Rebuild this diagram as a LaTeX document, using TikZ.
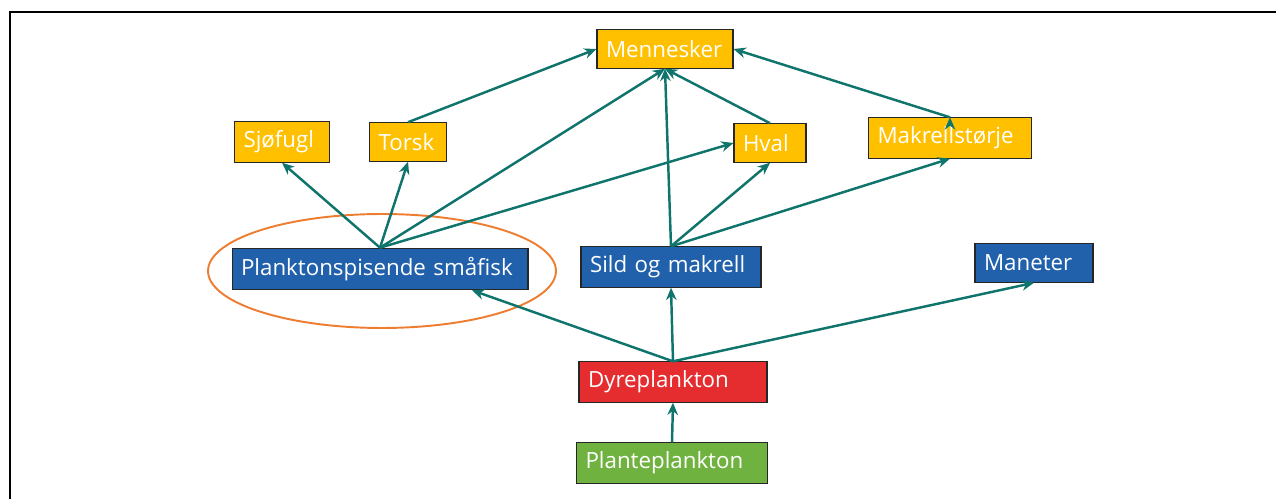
\documentclass[tikz,border=0pt]{standalone}
\usepackage{fontspec}
\setmainfont{Open Sans}
\usetikzlibrary{arrows.meta,calc}

\definecolor{topgold}{HTML}{FFC000}
\definecolor{fishblue}{HTML}{2161AC}
\definecolor{zoored}{HTML}{E52D30}
\definecolor{plantgreen}{HTML}{70B23F}
\definecolor{linkteal}{HTML}{0F746B}
\definecolor{ringorange}{HTML}{EE7D31}

\begin{document}
\begin{tikzpicture}[x=0.02cm,y=-0.02cm,
    every node/.style={font=\fontsize{12.7}{15}\selectfont},
    art/.style={draw=black!85,line width=0.6pt,text=white,minimum height=0.77cm,inner sep=0.18cm,align=left},
    link/.style={-{Stealth[length=7pt,width=6pt]},draw=linkteal,line width=1.4pt}]
    \useasboundingbox (0,0) rectangle (1276,499);
    \draw[line width=1.1pt] (1276,12) -- (10,12) -- (10,499);
    \draw[ringorange,line width=1.1pt] (382,271) ellipse [x radius=3.48cm,y radius=1.14cm];

    \node[art,fill=topgold,text width=2.36cm]    (menn)   at (665,49)  {Mennesker};
    \node[art,fill=topgold,text width=1.54cm]    (sjo)    at (282,142) {Sjøfugl};
    \node[art,fill=topgold,text width=1.18cm]    (torsk)  at (408,142) {Torsk};
    \node[art,fill=topgold,text width=1.08cm]    (hval)   at (770,143) {Hval};
    \node[art,fill=topgold,text width=2.90cm]    (mak)    at (950,138) {Makrellstørje};
    \node[art,fill=fishblue,text width=5.56cm]   (psf)    at (380,269) {Planktonspisende småfisk};
    \node[art,fill=fishblue,text width=3.24cm]   (sild)   at (671,267) {Sild og makrell};
    \node[art,fill=fishblue,text width=2.00cm]   (man)    at (1034,263) {Maneter};
    \node[art,fill=zoored,text width=3.40cm]     (dyr)    at (673,382) {Dyreplankton};
    \node[art,fill=plantgreen,text width=3.46cm] (plante) at (672,463) {Planteplankton};

    \path[link] (plante.north) edge (dyr.south)
                (dyr.north)    edge ($(psf.south)+(92,0)$)
                (dyr.north)    edge (sild.south)
                (dyr.north)    edge (man.south)
                (psf.north)    edge (sjo.south)
                (psf.north)    edge (torsk.south)
                (psf.north)    edge (hval.west)
                (psf.north)    edge (menn.south)
                (sild.north)   edge (menn.south)
                (sild.north)   edge (hval.south)
                (sild.north)   edge (mak.south)
                (torsk.north)  edge (menn.west)
                (hval.north)   edge (menn.south)
                (mak.north)    edge (menn.east)
                ;
\end{tikzpicture}
\end{document}
